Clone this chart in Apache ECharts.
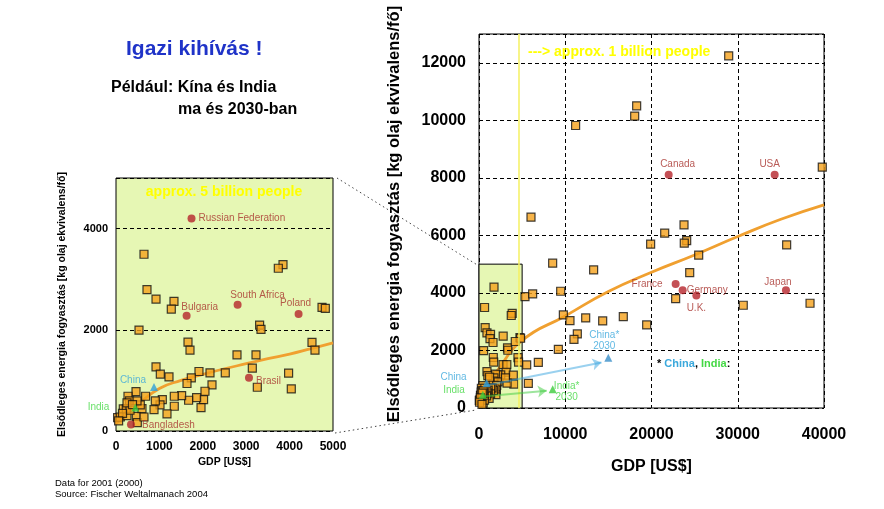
<!DOCTYPE html>
<html><head><meta charset="utf-8">
<script src="https://cdn.jsdelivr.net/npm/echarts/dist/echarts.min.js"></script>
<style>html,body{margin:0;padding:0;background:#fff}#c{width:884px;height:509px}</style>
</head><body><div id="c"></div>
<script>
// ---------------- data ----------------
const smallXRange = [0, 5000];   // small panel GDP axis
const smallYRange = [0, 5000];   // small panel energy axis
const largeXRange = [0, 40000];
const largeYRange = [0, 13000];

// countries (squares) in the 0-5000 window
const smallSquares = [
  [645,3493],[3848,3287],[3740,3216],[714,2792],[922,2608],[1336,2562],[1274,2410],[4747,2443],[4823,2424],
  [530,1994],[1659,1756],[1705,1598],[3309,2093],[3341,2008],[4516,1750],[4585,1598],[2788,1505],[3226,1505],
  [3141,1242],[3977,1143],[4039,832],[3256,865],[2518,1149],[2166,1149],[1912,1176],[1735,1050],[1636,939],
  [2212,911],[2050,786],[2018,622],[1959,463],[1857,661],[1673,608],[1512,701],[1343,687],[1343,489],
  [1175,337],[1067,622],[1014,515],[906,594],[876,424],[922,1267],[1021,1123],[1221,1069],
  [461,780],[276,687],[313,594],[168,436],[37,265],[99,277],[253,305],[468,291],[491,166],[645,277],
  [599,444],[682,687],[560,515],[237,436],[322,410],[253,554],[484,594],[380,520],[150,350],[60,200]
];
const smallDotNames  = ['Russian Federation','Bulgaria','South Africa','Poland','Brasil','Bangladesh'];
const smallDotValues = [[1740,4200],[1627,2277],[2802,2495],[4207,2311],[3064,1050],[345,127]];

const chinaNow  = [876, 871];
const indiaNow  = [445, 463];
const china2030 = [14990, 1750];
const india2030 = [8540, 650];

const smallTrend = [[0,150],[500,520],[1000,840],[1500,1000],[2000,1120],[2500,1230],[3000,1330],[3500,1430],[4000,1520],[4500,1630],[5000,1740]];

// countries (squares) outside the 0-5000 window, large panel
const largeSquaresOutside = [
  [28950,12243],[18280,10504],[18050,10146],[11200,9819],[39800,8372],[6029,6632],[23770,6365],[21530,6076],
  [19900,5694],[24080,5820],[23800,5728],[25470,5311],[35670,5669],[24430,4707],[22800,3802],[30640,3571],
  [38380,3641],[16730,3176],[19440,2887],[8540,5033],[13290,4800],[5333,3872],[6220,3965],[9470,4058],
  [9780,3234],[10550,3037],[12370,3130],[14340,3026],[11400,2574],[11010,2388],[9200,2041],[6880,1589],
  [5530,1496],[5720,859]
];
const largeDotNames  = ['Canada','USA','France','Germany','U.K.','Japan'];
const largeDotValues = [[21990,8104],[34280,8104],[22800,4313],[23610,4093],[25200,3907],[35590,4093]];

const largeTrend = [[800,750],[2000,1250],[5000,2350],[10000,3200],[15000,4050],[20000,4720],[25000,5320],[30000,5960],[35000,6560],[40000,7060]];

const chinaArrow = [[800,780],[14200,1580]];
const indiaArrow = [[450,400],[7850,600]];
const windowExtent = [5000, 5000];   // the zoomed window shown in green
const billionLineX = 4650;            // "approx. 1 billion people" boundary

// ---------------- styles ----------------
const FONT = 'Liberation Sans, Arial, sans-serif';
const SQ = {color:'#f5a11c', borderColor:'#111', borderWidth:1.2};
const DOT = '#b5242a', DOTLBL = '#a8322d';
const BLUE = '#2f9fd8', GREEN = '#3ccc3c';
const GREENBG = '#e6f7b4';
const plain = v => String(v);

function dotItems(names, values, styles){
  return names.map((n,i)=>({name:n, value:values[i],
    label:Object.assign({show:true, formatter:n, color:DOTLBL, fontSize:10, fontFamily:FONT}, styles[n])}));
}
const smallLabelStyle = {
  'Russian Federation': {position:'right', distance:3},
  'Bulgaria': {position:'top', distance:2, offset:[13,2]},
  'South Africa': {position:'top', distance:2, offset:[20,1]},
  'Poland': {position:'top', distance:2, offset:[-3,0]},
  'Brasil': {position:'right', distance:3, offset:[0,3]},
  'Bangladesh': {position:'right', distance:7, offset:[0,1]}
};
const largeLabelStyle = {
  'Canada': {position:'top', distance:2, offset:[9,0]},
  'USA': {position:'top', distance:2, offset:[-5,0]},
  'France': {position:'left', distance:9},
  'Germany': {position:'right', distance:0},
  'U.K.': {position:'bottom', distance:4},
  'Japan': {position:'top', distance:2, offset:[-8,3]}
};

const chart = echarts.init(document.getElementById('c'), null, {renderer:'canvas'});

const yellowText = {fill:'#ffff00', fontFamily:FONT, fontWeight:'bold', fontSize:14,
  textShadowColor:'#444', textShadowOffsetX:1, textShadowOffsetY:1, textShadowBlur:0};

const option = {
  animation:false,
  backgroundColor:'#fff',
  grid:[
    {left:116, top:178, width:217, height:253, show:true, backgroundColor:GREENBG, borderColor:'#000', borderWidth:1},
    {left:479, top:34, width:345, height:374, show:true, backgroundColor:'transparent', borderColor:'#000', borderWidth:1}
  ],
  xAxis:[
    {gridIndex:0, type:'value', min:smallXRange[0], max:smallXRange[1], interval:1000,
     axisLine:{show:false}, axisTick:{show:false}, splitLine:{show:false},
     axisLabel:{color:'#000', fontWeight:'bold', fontSize:12, fontFamily:FONT, margin:10, formatter:plain},
     name:'GDP [US$]', nameLocation:'middle', nameGap:26,
     nameTextStyle:{color:'#000', fontWeight:'bold', fontSize:10.5, fontFamily:FONT}},
    {gridIndex:1, type:'value', min:largeXRange[0], max:largeXRange[1], interval:10000,
     axisLine:{show:false}, axisTick:{show:false},
     splitLine:{show:true, lineStyle:{color:'#000', width:1, type:[4,3]}},
     axisLabel:{color:'#000', fontWeight:'bold', fontSize:16, fontFamily:FONT, margin:19, formatter:plain},
     name:'GDP [US$]', nameLocation:'middle', nameGap:51,
     nameTextStyle:{color:'#000', fontWeight:'bold', fontSize:16, fontFamily:FONT}}
  ],
  yAxis:[
    {gridIndex:0, type:'value', min:smallYRange[0], max:smallYRange[1], interval:2000,
     axisLine:{show:false}, axisTick:{show:false},
     splitLine:{show:true, lineStyle:{color:'#000', width:1, type:[4,3]}},
     axisLabel:{color:'#000', fontWeight:'bold', fontSize:11, fontFamily:FONT, margin:8, showMaxLabel:false, formatter:plain},
     name:'Elsődleges energia fogyasztás [kg olaj ekvivalens/fő]', nameLocation:'middle', nameGap:48, nameRotate:90,
     nameTextStyle:{color:'#000', fontWeight:'bold', fontSize:10.5, fontFamily:FONT}},
    {gridIndex:1, type:'value', min:largeYRange[0], max:largeYRange[1], interval:2000,
     axisLine:{show:false}, axisTick:{show:false},
     splitLine:{show:true, lineStyle:{color:'#000', width:1, type:[4,3]}},
     axisLabel:{color:'#000', fontWeight:'bold', fontSize:16, fontFamily:FONT, margin:13, showMaxLabel:false, formatter:plain},
     name:'Elsődleges energia fogyasztás [kg olaj ekvivalens/fő]', nameLocation:'middle', nameGap:76, nameRotate:90,
     nameTextStyle:{color:'#000', fontWeight:'bold', fontSize:16.5, fontFamily:FONT, padding:[0,0,0,14]}}
  ],
  series:[
    // green window on the large panel
    {type:'scatter', xAxisIndex:1, yAxisIndex:1, data:[], z:-1, silent:true,
     markArea:{silent:true, itemStyle:{color:GREENBG, borderColor:'#000', borderWidth:1},
       data:[[{coord:[0,0]},{coord:windowExtent}]]}},
    // dashed lines & 1-billion line on top of the green window
    {type:'scatter', xAxisIndex:1, yAxisIndex:1, data:[], z:1, silent:true,
     markLine:{silent:true, symbol:'none', label:{show:false},
       data:[
        [{coord:[0,2000], lineStyle:{color:'#000', width:1, type:[4,3]}},{coord:[windowExtent[0],2000]}],
        [{coord:[0,4000], lineStyle:{color:'#000', width:1, type:[4,3]}},{coord:[windowExtent[0],4000]}],
        [{coord:[billionLineX,largeYRange[0]], lineStyle:{color:'#f5f060', width:1.5, type:'solid'}},{coord:[billionLineX,largeYRange[1]]}]
       ]}},
    // small panel
    {type:'line', xAxisIndex:0, yAxisIndex:0, data:smallTrend, smooth:true, showSymbol:false, z:2,
     lineStyle:{color:'#f0a030', width:2.8}},
    {type:'scatter', xAxisIndex:0, yAxisIndex:0, data:smallSquares, symbol:'rect', symbolSize:8, itemStyle:SQ, z:3},
    {type:'scatter', xAxisIndex:0, yAxisIndex:0, data:dotItems(smallDotNames, smallDotValues, smallLabelStyle),
     symbol:'circle', symbolSize:8, itemStyle:{color:DOT}, z:4},
    {type:'scatter', xAxisIndex:0, yAxisIndex:0, symbol:'triangle', symbolSize:8, z:5,
     data:[
      {value:chinaNow, itemStyle:{color:BLUE}, label:{show:true, formatter:'China', position:'left', distance:4, offset:[0,-7], color:'#3aa8dc', fontSize:10, fontFamily:FONT}},
      {value:indiaNow, itemStyle:{color:GREEN}, label:{show:true, formatter:'India', position:'left', distance:22, offset:[0,0], color:'#44d844', fontSize:10, fontFamily:FONT}}
     ]},
    // large panel
    {type:'line', xAxisIndex:1, yAxisIndex:1, data:largeTrend, smooth:true, showSymbol:false, z:2,
     lineStyle:{color:'#f0a030', width:2.8}},
    {type:'scatter', xAxisIndex:1, yAxisIndex:1, data:smallSquares.concat(smallDotValues, largeSquaresOutside),
     symbol:'rect', symbolSize:8, itemStyle:SQ, z:3},
    {type:'scatter', xAxisIndex:1, yAxisIndex:1, data:dotItems(largeDotNames, largeDotValues, largeLabelStyle),
     symbol:'circle', symbolSize:8, itemStyle:{color:DOT}, z:4},
    {type:'lines', coordinateSystem:'cartesian2d', xAxisIndex:1, yAxisIndex:1, z:5, silent:true,
     symbol:['none','arrow'], symbolSize:9,
     data:[{coords:chinaArrow, lineStyle:{color:'#35a4e0', width:2}},
           {coords:indiaArrow, lineStyle:{color:GREEN, width:2}}]},
    {type:'scatter', xAxisIndex:1, yAxisIndex:1, symbol:'triangle', symbolSize:8, z:6,
     data:[
      {value:chinaNow, itemStyle:{color:BLUE}, label:{show:true, formatter:'China', position:'left', distance:16, offset:[0,-6], color:'#3aa8dc', fontSize:10, fontFamily:FONT}},
      {value:indiaNow, itemStyle:{color:GREEN}, label:{show:true, formatter:'India', position:'left', distance:14, offset:[0,-4], color:'#44d844', fontSize:10, fontFamily:FONT}},
      {value:china2030, itemStyle:{color:'#3a8fc8'}, label:{show:true, formatter:'China*\n2030', position:'top', distance:2, offset:[-4,0], color:'#3aa8dc', fontSize:10, lineHeight:11, fontFamily:FONT, align:'center'}},
      {value:india2030, itemStyle:{color:GREEN}, label:{show:true, formatter:'India*\n2030', position:'right', distance:10, offset:[0,2], color:'#44d844', fontSize:10, lineHeight:11, fontFamily:FONT, align:'center'}}
     ]}
  ],
  graphic:[
    {type:'text', left:126, top:39, style:{text:'Igazi kihívás !', fill:'#1f33c8', fontFamily:FONT, fontWeight:'bold', fontSize:21}},
    {type:'text', left:111, top:80, style:{text:'Például: Kína és India', fill:'#000', fontFamily:FONT, fontWeight:'bold', fontSize:16}},
    {type:'text', left:178, top:102, style:{text:'ma és 2030-ban', fill:'#000', fontFamily:FONT, fontWeight:'bold', fontSize:16}},
    {type:'text', left:55, top:478, style:{text:'Data for 2001 (2000)', fill:'#000', fontFamily:FONT, fontSize:9.5}},
    {type:'text', left:55, top:489, style:{text:'Source: Fischer Weltalmanach 2004', fill:'#000', fontFamily:FONT, fontSize:9.5}},
    {type:'text', x:224, y:192, z:10, style:Object.assign({text:'approx. 5 billion people', align:'center', verticalAlign:'middle'}, yellowText)},
    {type:'text', x:528, y:52, z:10, style:Object.assign({text:'---> approx. 1 billion people', align:'left', verticalAlign:'middle'}, yellowText)},
    {type:'text', x:657, y:364, z:10, style:{rich:{k:{fill:'#000', fontSize:11, fontWeight:'bold', fontFamily:FONT}, c:{fill:'#3aa8dc', fontSize:11, fontWeight:'bold', fontFamily:FONT}, i:{fill:'#44d844', fontSize:11, fontWeight:'bold', fontFamily:FONT}},
      text:'{k|* }{c|China}{k|, }{i|India}{k|:}', verticalAlign:'middle'}}
  ]
};
chart.setOption(option);

// dotted connectors between the small panel and the green window
const a1 = chart.convertToPixel({xAxisIndex:0, yAxisIndex:0}, [smallXRange[1], smallYRange[1]]);
const a2 = chart.convertToPixel({xAxisIndex:0, yAxisIndex:0}, [smallXRange[1], smallYRange[0]]);
const b1 = chart.convertToPixel({xAxisIndex:1, yAxisIndex:1}, [0, windowExtent[1]]);
const b2 = chart.convertToPixel({xAxisIndex:1, yAxisIndex:1}, [0, 0]);
const conn = {stroke:'#444', lineWidth:1, lineDash:[1.5,3]};
chart.setOption({graphic: option.graphic.concat([
  {type:'line', shape:{x1:a1[0]+4, y1:a1[1], x2:b1[0]-3, y2:b1[1]}, style:conn, silent:true},
  {type:'line', shape:{x1:a2[0]+2, y1:a2[1]+2, x2:b2[0]-3, y2:b2[1]+2}, style:conn, silent:true}
])});
</script>
</body></html>
